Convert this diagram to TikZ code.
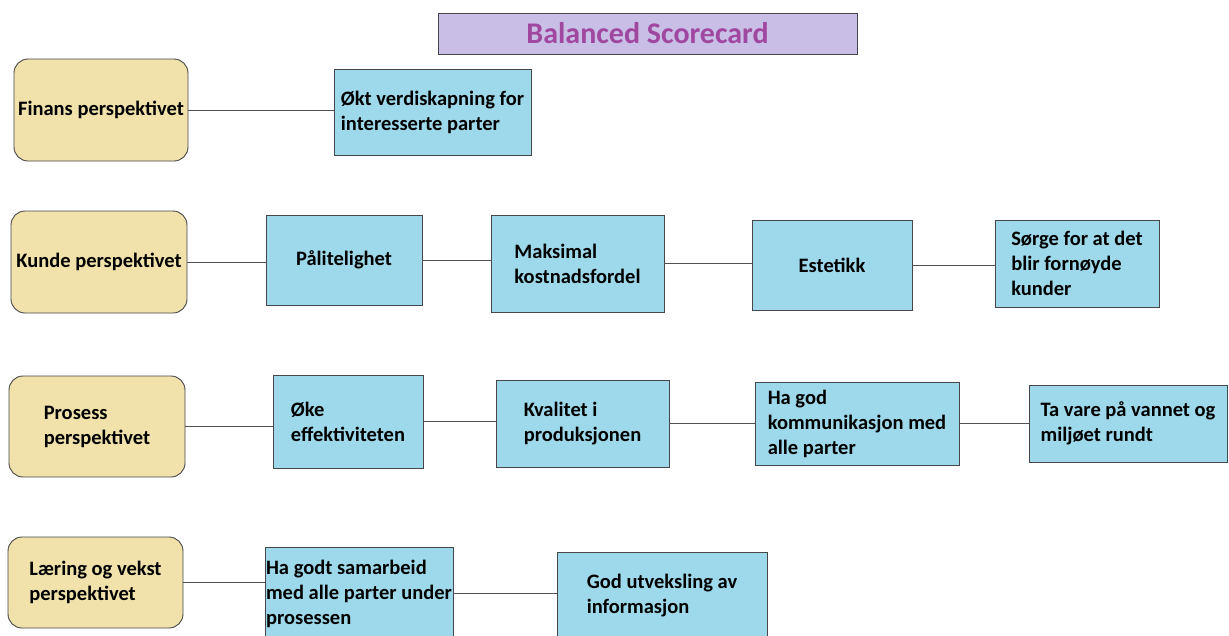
\documentclass[tikz,border=0pt]{standalone}
\usepackage{fontspec}
\setmainfont{Carlito}
\usetikzlibrary{calc}
\definecolor{perspfill}{RGB}{240,226,170}
\definecolor{goalfill}{RGB}{157,217,234}
\definecolor{titlefill}{RGB}{200,190,230}
\definecolor{titletext}{RGB}{160,72,160}
\definecolor{boxline}{RGB}{70,70,75}
\definecolor{lncol}{RGB}{80,80,80}
\begin{document}
\begin{tikzpicture}[x=1pt,y=-1pt,every node/.style={font=\bfseries\fontsize{20.5}{25}\selectfont,align=left,inner sep=0.5pt},
 persp/.style={draw=boxline,fill=perspfill,rounded corners=14pt,line width=0.9pt},
 goal/.style={draw=boxline,fill=goalfill,line width=0.9pt},
 ln/.style={draw=lncol,line width=1pt}]
\useasboundingbox (0,0) rectangle (1229,635);
\node[draw=boxline,fill=titlefill,text=titletext,minimum width=419pt,minimum height=41pt,font=\bfseries\fontsize{30}{35}\selectfont] (title) at (647.5,33.5) {Balanced Scorecard};
% perspektiver
\node[persp,minimum width=174pt,minimum height=102pt] (fin) at (101,110) {Finans perspektivet};
\node[persp,minimum width=176pt,minimum height=102pt] (kun) at (99,262) {Kunde perspektivet};
\node[persp,minimum width=176pt,minimum height=101pt] (pro) at (97,426.5) {Prosess\\perspektivet};
\node[persp,minimum width=175pt,minimum height=91pt] (lae) at (95.5,582.5) {Læring og vekst\\perspektivet};
% mål
\node[goal,minimum width=197pt,minimum height=86pt] (okt) at (432.5,112) {Økt verdiskapning for\\interesserte parter};
\node[goal,minimum width=156pt,minimum height=90pt] (pal) at (344,260) {Pålitelighet};
\node[goal,minimum width=173pt,minimum height=97pt] (mak) at (577.5,263.5) {Maksimal\\kostnadsfordel};
\node[goal,minimum width=160pt,minimum height=90pt] (est) at (832,265) {Estetikk};
\node[goal,minimum width=164pt,minimum height=87pt] (sor) at (1077,263.5) {Sørge for at det\\blir fornøyde\\kunder};
\node[goal,minimum width=150pt,minimum height=93pt] (oke) at (348,421.5) {Øke\\effektiviteten};
\node[goal,minimum width=173pt,minimum height=87pt] (kva) at (582.5,423.5) {Kvalitet i\\produksjonen};
\node[goal,minimum width=204pt,minimum height=83pt] (hag) at (857,423.5) {Ha god\\kommunikasjon med\\alle parter};
\node[goal,minimum width=198pt,minimum height=77pt] (tav) at (1128,423.5) {Ta vare på vannet og\\miljøet rundt};
\node[goal,minimum width=188pt,minimum height=93pt] (sam) at (359,593.5) {Ha godt samarbeid\\med alle parter under\\prosessen};
\node[goal,minimum width=210pt,minimum height=88pt] (god) at (662,596) {God utveksling av\\informasjon};
% forbindelser
\draw[ln] (fin.east) -- (fin.east -| okt.west);
\draw[ln] (kun.east) -- (kun.east -| pal.west);
\draw[ln] (pal.east) -- (pal.east -| mak.west);
\draw[ln] (mak.east) -- (mak.east -| est.west);
\draw[ln] (est.east) -- (est.east -| sor.west);
\draw[ln] (pro.east) -- (pro.east -| oke.west);
\draw[ln] (oke.east) -- (oke.east -| kva.west);
\draw[ln] (kva.east) -- (kva.east -| hag.west);
\draw[ln] (hag.east) -- (hag.east -| tav.west);
\draw[ln] (lae.east) -- (lae.east -| sam.west);
\draw[ln] (sam.east) -- (sam.east -| god.west);
\end{tikzpicture}
\end{document}
